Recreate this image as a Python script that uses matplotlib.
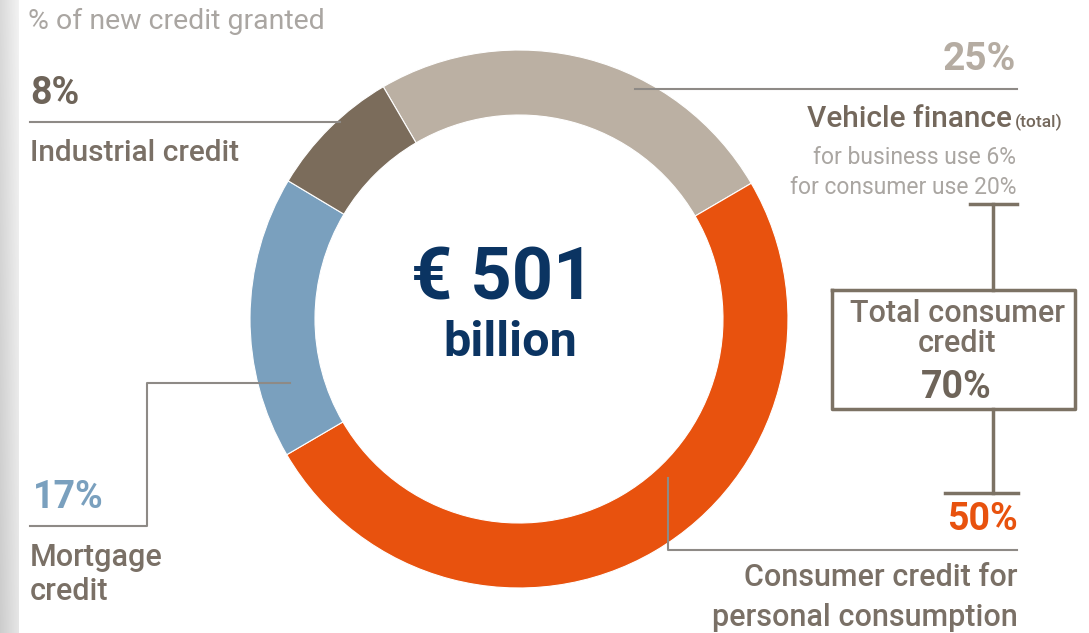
import numpy as np
import matplotlib.pyplot as plt

W, H = 1089, 633

# share of new credit granted, clockwise from the top
segments = ["Vehicle finance", "Consumer credit", "Mortgage credit", "Industrial credit"]
shares = [25, 50, 17, 8]
seg_colors = ["#bbb0a3", "#e8520e", "#7aa0be", "#7b6c5b"]

total_volume = "€ 501"
business_use = 6
consumer_use = 20
total_consumer = 70

TEXT = "#7a7066"
LIGHT = "#aaa6a2"
LINE = "#8e8a86"
BOX = "#7c7264"
NAVY = "#0b3462"

plt.rcParams['font.family'] = ['Roboto', 'DejaVu Sans']

fig = plt.figure(figsize=(W / 100, H / 100), dpi=100)
ax = fig.add_axes([0, 0, 1, 1])


def y(px):
    # pixel rows counted from the top
    return H - px


cx, cy, r_out, r_in = 519, 319, 269, 204
ax.pie(shares, colors=seg_colors, startangle=120.3, counterclock=False,
       radius=r_out, center=(cx, y(cy)),
       wedgeprops=dict(width=r_out - r_in, edgecolor='white', linewidth=0.8))
ax.set_xlim(0, W)
ax.set_ylim(0, H)
ax.set_aspect('equal')
ax.axis('off')

# light grey strip down the left edge
gx = np.linspace(0, 1, 20)[None, :]
gy = np.linspace(1, 0, 50)[:, None]
strip = 0.80 + 0.10 * gx + 0.05 * gy
ax.imshow(strip, cmap='gray', vmin=0, vmax=1, extent=(0, 19, 0, H),
          aspect='auto', zorder=0)

# centre figure
ax.text(503, y(280), total_volume, ha='center', va='center', fontsize=52,
        fontweight='bold', color=NAVY)
ax.text(510, y(343), "billion", ha='center', va='center', fontsize=35,
        fontweight='bold', color=NAVY)

ax.text(28, y(21), "% of new credit granted", ha='left', va='center',
        fontsize=20.5, color=LIGHT)

# industrial credit
ax.text(30, y(93), f"{shares[3]}%", ha='left', va='center', fontsize=27,
        fontweight='bold', color="#6e6459")
ax.plot([30, 340], [y(122), y(122)], color=LINE, lw=1.5)
ax.text(30, y(153), segments[3], ha='left', va='center', fontsize=21.5,
        fontweight='medium', color=TEXT)

# vehicle finance
ax.text(1016, y(60), f"{shares[0]}%", ha='right', va='center', fontsize=28,
        fontweight='bold', color="#b5aca2")
ax.plot([635, 1017], [y(89), y(89)], color=LINE, lw=1.5)
ax.text(1012, y(119), segments[0], ha='right', va='center', fontsize=21.5,
        fontweight='medium', color="#74685c")
ax.text(1015, y(122), "(total)", ha='left', va='center', fontsize=12.5,
        fontweight='medium', color="#74685c")
ax.text(1016, y(157), f"for business use {business_use}%", ha='right',
        va='center', fontsize=16.5, color=LIGHT)
ax.text(1016, y(187), f"for consumer use {consumer_use}%", ha='right',
        va='center', fontsize=16.5, color=LIGHT)

# total consumer credit bracket
ax.plot([970, 1017], [y(204), y(204)], color=BOX, lw=2.5)
ax.plot([993, 993], [y(204), y(290)], color=BOX, lw=2.5)
ax.plot([832, 1075, 1075, 832, 832], [y(290), y(290), y(409), y(409), y(290)],
        color=BOX, lw=2.5)
ax.plot([993, 993], [y(409), y(493)], color=BOX, lw=2.5)
ax.plot([945, 1018], [y(493), y(493)], color=BOX, lw=2.5)
ax.text(957, y(314), "Total consumer", ha='center', va='center', fontsize=22,
        fontweight='medium', color=TEXT)
ax.text(957, y(344), "credit", ha='center', va='center', fontsize=22,
        fontweight='medium', color=TEXT)
ax.text(956, y(387), f"{total_consumer}%", ha='center', va='center',
        fontsize=27, fontweight='bold', color="#6e6459")

# consumer credit for personal consumption
ax.text(1018, y(520), f"{shares[1]}%", ha='right', va='center', fontsize=27,
        fontweight='bold', color="#e8520e")
ax.plot([668, 668, 1017], [y(478), y(550), y(550)], color=LINE, lw=1.5)
ax.text(1018, y(577), "Consumer credit for", ha='right', va='center',
        fontsize=22, fontweight='medium', color=TEXT)
ax.text(1018, y(618), "personal consumption", ha='right', va='center',
        fontsize=22, fontweight='medium', color=TEXT)

# mortgage credit
ax.plot([290, 147, 147, 30], [y(383), y(383), y(526), y(526)], color=LINE, lw=1.5)
ax.text(33, y(497), f"{shares[2]}%", ha='left', va='center', fontsize=27,
        fontweight='bold', color="#7aa0be")
ax.text(30, y(557), "Mortgage", ha='left', va='center', fontsize=22,
        fontweight='medium', color=TEXT)
ax.text(30, y(591), "credit", ha='left', va='center', fontsize=22,
        fontweight='medium', color=TEXT)

fig.savefig("out.png", dpi=100)
